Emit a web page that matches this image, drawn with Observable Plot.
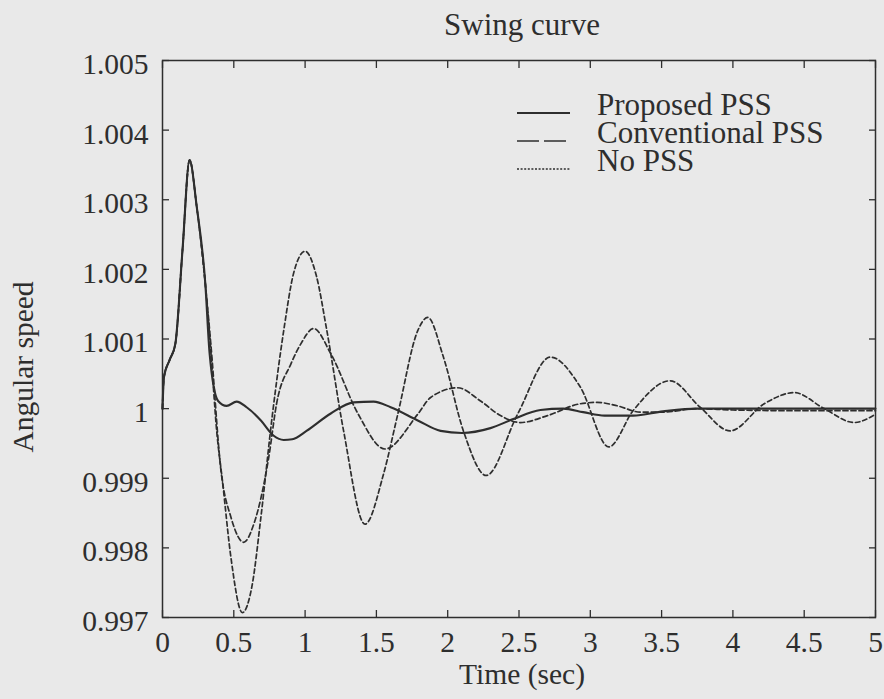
<!DOCTYPE html>
<html>
<head>
<meta charset="utf-8">
<script src="https://cdn.jsdelivr.net/npm/d3@7"></script>
<script src="https://cdn.jsdelivr.net/npm/@observablehq/plot@0.6"></script>
<style>
  html, body { margin: 0; padding: 0; background: #e9e9e9; }
  #wrap { position: relative; width: 884px; height: 699px; background: #e9e9e9; font-family: "Liberation Serif", "Times New Roman", serif; }
  #wrap svg, #wrap svg text { font-family: "Liberation Serif", "Times New Roman", serif !important; }
  #legend { position: absolute; left: 0; top: 0; }
</style>
</head>
<body>
<div id="wrap"></div>
<script>
// ---- data ----
const title = "Swing curve";
const xLabel = "Time (sec)";
const yLabel = "Angular speed";
const seriesNames = ["Proposed PSS", "Conventional PSS", "No PSS"];

const xTicks = [0, 0.5, 1, 1.5, 2, 2.5, 3, 3.5, 4, 4.5, 5];
const yTicks = [0.997, 0.998, 0.999, 1, 1.001, 1.002, 1.003, 1.004, 1.005];

const tProposed = [0, 0.01, 0.05, 0.09, 0.14, 0.19, 0.24, 0.30, 0.33, 0.39, 0.45, 0.52, 0.59, 0.69, 0.78, 0.85, 0.91, 1.01, 1.18, 1.34, 1.48, 1.60, 1.79, 1.95, 2.10, 2.30, 2.46, 2.65, 2.81, 2.95, 3.10, 3.30, 3.51, 3.75, 4.0, 4.5, 5.0];
const vProposed = [1.0, 1.00045, 1.0007, 1.00093, 1.00227, 1.00357, 1.0029, 1.0018, 1.0008, 1.00011, 1.00004, 1.0001, 1.00002, 0.99983, 0.99961, 0.99955, 0.99956, 0.99968, 0.99993, 1.00009, 1.0001, 1.00002, 0.99983, 0.99968, 0.99965, 0.99972, 0.99985, 0.99998, 1.0, 0.99995, 0.9999, 0.9999, 0.99996, 1.0, 1.0, 1.0, 1.0];

const tConventional = [0, 0.01, 0.05, 0.09, 0.14, 0.19, 0.24, 0.30, 0.34, 0.41, 0.48, 0.57, 0.64, 0.745, 0.80, 0.90, 0.97, 1.06, 1.18, 1.37, 1.56, 1.79, 1.88, 2.07, 2.23, 2.37, 2.51, 2.70, 2.93, 3.05, 3.19, 3.35, 3.51, 3.75, 4.0, 4.5, 5.0];
const vConventional = [1.0, 1.00045, 1.0007, 1.00093, 1.00227, 1.00357, 1.0029, 1.0018, 1.0009, 0.99911, 0.99844, 0.99808, 0.99834, 0.9993, 1.00007, 1.00064, 1.00093, 1.00115, 1.00079, 0.99993, 0.99942, 0.99992, 1.00016, 1.0003, 1.00011, 0.9999, 0.9998, 0.9999, 1.00007, 1.00009, 1.00004, 0.99995, 0.99995, 1.0, 0.99998, 0.99997, 0.99997];

const tNoPSS = [0, 0.01, 0.05, 0.09, 0.14, 0.19, 0.24, 0.30, 0.34, 0.38, 0.42, 0.48, 0.56, 0.63, 0.69, 0.77, 0.85, 0.92, 1.00, 1.08, 1.15, 1.27, 1.42, 1.55, 1.65, 1.79, 1.86, 1.97, 2.11, 2.27, 2.49, 2.72, 2.93, 3.13, 3.30, 3.56, 3.77, 3.98, 4.22, 4.43, 4.64, 4.85, 5.0];
const vNoPSS = [1.0, 1.00045, 1.0007, 1.00093, 1.00227, 1.00357, 1.0029, 1.0018, 1.0008, 0.99968, 0.99897, 0.99786, 0.99707, 0.99748, 0.99844, 0.9999, 1.00112, 1.00195, 1.00226, 1.0019, 1.00115, 0.99968, 0.99834, 0.99906, 0.99992, 1.00112, 1.00131, 1.00074, 0.99968, 0.99904, 0.99992, 1.00074, 1.00031, 0.99945, 0.99997, 1.0004, 1.00002, 0.99968, 1.00007, 1.00023, 1.0, 0.9998, 0.99992];

// ---- build ----
const ink = "#2e2e2e";
const font = "'Liberation Serif', 'Times New Roman', serif";
const toRows = (ts, vs) => ts.map((t, i) => ({t, v: vs[i]}));
const proposed = toRows(tProposed, vProposed);
const conventional = toRows(tConventional, vConventional);
const noPss = toRows(tNoPSS, vNoPSS);
const yFmt = d => d === 1 ? "1" : d.toFixed(3);
const xFmt = d => String(d);

const chart = Plot.plot({
  width: 884,
  height: 699,
  marginTop: 60,
  marginLeft: 162,
  marginRight: 9,
  marginBottom: 82,
  style: {background: "transparent", fontFamily: font, color: ink, overflow: "visible"},
  x: {domain: [0, 5]},
  y: {domain: [0.997, 1.005]},
  marks: [
    Plot.frame({stroke: ink, strokeWidth: 1.5}),
    // inward ticks on all four sides
    Plot.axisX(xTicks, {anchor: "bottom", tickSize: -7, tickFormat: () => "", label: null, stroke: ink, strokeWidth: 1.3}),
    Plot.axisX(xTicks, {anchor: "top", tickSize: -7, tickFormat: () => "", label: null, stroke: ink, strokeWidth: 1.3}),
    Plot.axisY(yTicks, {anchor: "left", tickSize: -7, tickFormat: () => "", label: null, stroke: ink, strokeWidth: 1.3}),
    Plot.axisY(yTicks, {anchor: "right", tickSize: -7, tickFormat: () => "", label: null, stroke: ink, strokeWidth: 1.3}),
    // tick labels
    Plot.axisX(xTicks, {anchor: "bottom", tickSize: 0, tickPadding: 14, tickFormat: xFmt, label: null, fontSize: 29.5, fill: ink}),
    Plot.axisY(yTicks, {anchor: "left", tickSize: 0, tickPadding: 14, tickFormat: yFmt, label: null, fontSize: 29.5, fill: ink, dy: 4}),
    // series
    Plot.line(noPss, {x: "t", y: "v", stroke: ink, strokeWidth: 1.7, strokeDasharray: "4.5,3", curve: "monotone-x"}),
    Plot.line(conventional, {x: "t", y: "v", stroke: ink, strokeWidth: 1.7, strokeDasharray: "5,3", curve: "monotone-x"}),
    Plot.line(proposed, {x: "t", y: "v", stroke: ink, strokeWidth: 2.1, curve: "monotone-x"}),
    // titles
    Plot.text([title], {frameAnchor: "top", textAnchor: "middle", lineAnchor: "middle", dx: 3, dy: -35, fontSize: 31, fill: ink}),
    Plot.text([xLabel], {frameAnchor: "bottom", textAnchor: "middle", lineAnchor: "middle", dx: 3, dy: 57, fontSize: 29.5, fill: ink}),
    Plot.text([yLabel], {frameAnchor: "left", textAnchor: "middle", lineAnchor: "middle", rotate: -90, dx: -139, dy: 28, fontSize: 29.5, fill: ink})
  ]
});

const wrap = document.getElementById("wrap");
wrap.appendChild(chart);

// legend (overlay, inside the plot's upper right)
const ns = "http://www.w3.org/2000/svg";
const leg = document.createElementNS(ns, "svg");
leg.setAttribute("id", "legend");
leg.setAttribute("width", 884);
leg.setAttribute("height", 699);
const legendStyles = [
  {dash: null, width: 2.1},
  {dash: "22,5", width: 1.7},
  {dash: "2,1.6", width: 1.7}
];
seriesNames.forEach((name, i) => {
  const base = 115 + i * 28;
  const ln = document.createElementNS(ns, "line");
  ln.setAttribute("x1", 517); ln.setAttribute("x2", 570);
  ln.setAttribute("y1", base - 2); ln.setAttribute("y2", base - 2);
  ln.setAttribute("stroke", ink);
  ln.setAttribute("stroke-width", legendStyles[i].width);
  if (legendStyles[i].dash) ln.setAttribute("stroke-dasharray", legendStyles[i].dash);
  leg.appendChild(ln);
  const tx = document.createElementNS(ns, "text");
  tx.setAttribute("x", 597); tx.setAttribute("y", base);
  tx.setAttribute("font-size", 31);
  tx.setAttribute("fill", ink);
  tx.textContent = name;
  leg.appendChild(tx);
});
wrap.appendChild(leg);
</script>
</body>
</html>
